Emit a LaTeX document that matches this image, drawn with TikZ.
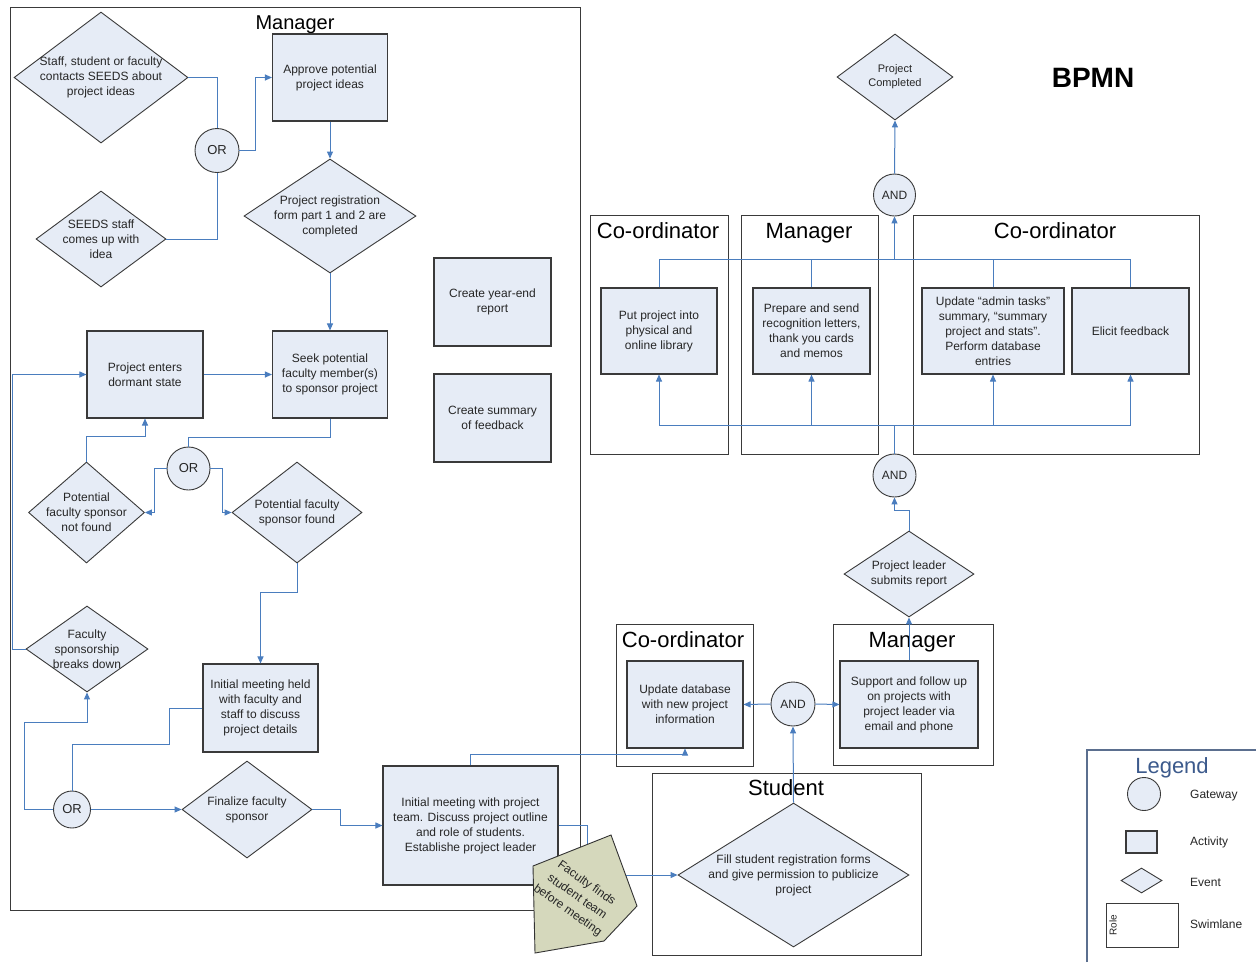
\documentclass[tikz,border=0pt]{standalone}
\usepackage{fontspec}
\setmainfont{Liberation Sans}
\usetikzlibrary{shapes.geometric,arrows.meta}
\definecolor{shapefill}{HTML}{E6ECF6}
\definecolor{flowblue}{HTML}{4A7DBE}
\definecolor{edgegray}{HTML}{3A3A3A}
\definecolor{arrowfill}{HTML}{D5D8BC}
\definecolor{legendblue}{HTML}{3C5A8C}
\definecolor{legendframe}{HTML}{5B6F8F}
\begin{document}
\begin{tikzpicture}[x=1pt,y=-1pt,
  every node/.style={font=\fontsize{12}{15}\selectfont, text=black!85},
  lane/.style={draw=edgegray, line width=1.1pt, rectangle, inner sep=0, anchor=north west},
  lanetitle/.style={font=\fontsize{22}{24}\selectfont, anchor=base, inner sep=0, text=black},
  act/.style={rectangle, draw=edgegray, line width=1.1pt, fill=shapefill, align=center, inner sep=1pt},
  evt/.style={diamond, draw=edgegray, line width=0.9pt, fill=shapefill, inner sep=0},
  gate/.style={circle, draw=edgegray, line width=0.9pt, fill=shapefill, inner sep=0, font=\fontsize{13}{15}\selectfont},
  lbl/.style={align=center, inner sep=0},
  flow/.style={draw=flowblue, line width=1pt, -{Triangle[length=7pt,width=6pt]}},
  link/.style={draw=flowblue, line width=1pt},
  legtext/.style={anchor=base west, inner sep=0, font=\fontsize{12}{14}\selectfont},
]
\useasboundingbox (0,0) rectangle (1256,962);
\fill[white] (0,0) rectangle (1256,962);

% ---------- swimlanes ----------
\node[lane, minimum width=570, minimum height=903] (lmgr) at (10,7) {};
\node[lanetitle, font=\fontsize{20}{22}\selectfont] (tmgr) at (295,29) {Manager};
\node[lane, minimum width=138, minimum height=239] (lco1) at (590,215) {};
\node[lanetitle] (tco1) at (658,238) {Co-ordinator};
\node[lane, minimum width=137, minimum height=239] (lmgr2) at (741,215) {};
\node[lanetitle] (tmgr2) at (809,238) {Manager};
\node[lane, minimum width=286, minimum height=239] (lco2) at (913,215) {};
\node[lanetitle] (tco2) at (1055,238) {Co-ordinator};
\node[lane, minimum width=137, minimum height=142] (lco3) at (616,624) {};
\node[lanetitle] (tco3) at (683,647) {Co-ordinator};
\node[lane, minimum width=160, minimum height=141] (lmgr3) at (833,624) {};
\node[lanetitle] (tmgr3) at (912,647) {Manager};
\node[lane, minimum width=269, minimum height=182] (lstu) at (652,773) {};
\node[lanetitle] (tstu) at (786,795) {Student};

\node[anchor=base, inner sep=0, font=\bfseries\fontsize{28}{30}\selectfont, text=black] (bpmn) at (1093,87) {BPMN};

% ---------- left lane: events, gateways, activities ----------
\node[evt, minimum width=174, minimum height=131,
  label={[lbl]center:{Staff, student or faculty\\contacts SEEDS about\\project ideas}}] (d1) at (101,77.5) {};
\node[evt, minimum width=130, minimum height=96,
  label={[lbl]center:{SEEDS staff\\comes up with\\idea}}] (d2) at (101,239) {};
\node[gate, minimum size=44] (or1) at (217,150.5) {OR};
\node[act, minimum width=115, minimum height=87] (a1) at (330,77.5) {Approve potential\\project ideas};
\node[evt, minimum width=172, minimum height=114,
  label={[lbl]center:{Project registration\\form part 1 and 2 are\\completed}}] (d3) at (330,216) {};
\node[act, minimum width=116, minimum height=87] (a2) at (145,374.5) {Project enters\\dormant state};
\node[act, minimum width=115, minimum height=87] (a3) at (330,374.5) {Seek potential\\faculty member(s)\\to sponsor project};
\node[gate, minimum size=43] (or2) at (188.5,468.5) {OR};
\node[evt, minimum width=116, minimum height=101,
  label={[lbl]center:{Potential\\faculty sponsor\\not found}}] (d4) at (86.5,512.5) {};
\node[evt, minimum width=130, minimum height=101,
  label={[lbl]center:{Potential faculty\\sponsor found}}] (d5) at (297,512.5) {};
\node[evt, minimum width=122, minimum height=86,
  label={[lbl]center:{Faculty\\sponsorship\\breaks down}}] (d6) at (87,649) {};
\node[act, minimum width=115, minimum height=88] (a4) at (260.5,708) {Initial meeting held\\with faculty and\\staff to discuss\\project details};
\node[gate, minimum size=37] (or3) at (72,809.5) {OR};
\node[evt, minimum width=130, minimum height=97,
  label={[lbl]center:{Finalize faculty\\sponsor}}] (d7) at (247,809.5) {};
\node[act, minimum width=175, minimum height=119] (a5) at (470.5,825.5) {Initial meeting with project\\team. Discuss project outline\\and role of students.\\Establishe project leader};
\node[act, minimum width=117, minimum height=88] (yer) at (492.5,302) {Create year-end\\report};
\node[act, minimum width=117, minimum height=88] (sof) at (492.5,418) {Create summary\\of feedback};

% ---------- right side ----------
\node[act, minimum width=116, minimum height=87] (upd) at (685,704.5) {Update database\\with new project\\information};
\node[gate, minimum size=44, font=\fontsize{12}{14}\selectfont] (and3) at (793,704) {AND};
\node[act, minimum width=138, minimum height=87] (sup) at (909,704.5) {Support and follow up\\on projects with\\project leader via\\email and phone};
\node[evt, minimum width=231, minimum height=144,
  label={[lbl]center:{Fill student registration forms\\and give permission to publicize\\project}}] (sd) at (793.5,875) {};
\node[evt, minimum width=130, minimum height=86,
  label={[lbl]center:{Project leader\\submits report}}] (plr) at (909,574) {};
\node[gate, minimum size=43, font=\fontsize{12}{14}\selectfont] (and2) at (894.5,475.5) {AND};
\node[act, minimum width=116, minimum height=86] (b1) at (659,331) {Put project into\\physical and\\online library};
\node[act, minimum width=117, minimum height=86] (b2) at (811.5,331) {Prepare and send\\recognition letters,\\thank you cards\\and memos};
\node[act, minimum width=142, minimum height=86] (b3) at (993,331) {Update “admin tasks”\\summary, “summary\\project and stats”.\\Perform database\\entries};
\node[act, minimum width=117, minimum height=86] (b4) at (1130.5,331) {Elicit feedback};
\node[gate, minimum size=42, font=\fontsize{12}{14}\selectfont] (and1) at (894.5,195) {AND};
\node[evt, minimum width=116, minimum height=86,
  label={[lbl, font=\fontsize{11}{14}\selectfont]center:{Project\\Completed}}] (pc) at (895,77) {};

% ---------- connectors: left lane ----------
\draw[link] (d1.east) -| (or1.north);
\draw[link] (d2.east) -| (or1.south);
\draw[flow] (or1.east) -- ++(16,0) |- (a1.west);
\draw[flow] (a1.south) -- (d3.north);
\draw[flow] (d3.south) -- (a3.north);
\draw[flow] (a2.east) -- (a3.west);
\draw[link] (a3.south) -- ++(0,19) -| (or2.north);
\draw[flow] (or2.west) -- ++(-12,0) |- (d4.east);
\draw[flow] (or2.east) -- ++(12,0) |- (d5.west);
\draw[flow] (d4.north) -- ++(0,-25) -| (a2.south);
\draw[flow] (d5.south) -- ++(0,29) -| (a4.north);
\draw[flow] (d6.west) -- ++(-13,0) |- (a2.west);
\draw[link] (a4.west) -- ++(-33,0) -- ++(0,36) -| (or3.north);
\draw[flow] (or3.west) -- ++(-28.5,0) -- ++(0,-87.5) -| (d6.south);
\draw[flow] (or3.east) -- (d7.west);
\draw[flow] (d7.east) -- ++(28,0) |- (a5.west);
\draw[flow] (a5.north) -- ++(0,-11) -| (upd.south);
\draw[flow] (a5.east) -- ++(29,0) |- (sd.west);

% ---------- connectors: right side ----------
\draw[flow] (sd.north) -- (and3.south);
\draw[flow] (and3.west) -- (upd.east);
\draw[flow] (and3.east) -- (sup.west);
\draw[flow] (sup.north) -- (plr.south);
\draw[flow] (plr.north) -- ++(0,-20) -| (and2.south);
\coordinate (busy) at (0,425);
\coordinate (bb) at (and2.north |- busy);
\draw[link] (and2.north) -- (bb);
\draw[flow] (bb) -| (b1.south);
\draw[flow] (bb) -| (b2.south);
\draw[flow] (bb) -| (b3.south);
\draw[flow] (bb) -| (b4.south);
\coordinate (tbus) at (0,259);
\coordinate (bt) at (and1.south |- tbus);
\draw[link] (b1.north) |- (bt);
\draw[link] (b2.north) |- (bt);
\draw[link] (b3.north) |- (bt);
\draw[link] (b4.north) |- (bt);
\draw[flow] (bt) -- (and1.south);
\draw[flow] (and1.north) -- (pc.south);

% ---------- annotation arrow ----------
\draw[draw=black!80, line width=0.9pt, fill=arrowfill]
  (611,835) -- (637,906) -- (604,941) -- (535,953) -- (533,866) -- cycle;
\node[lbl, rotate=-35, font=\fontsize{12}{16.5}\selectfont] (note) at (577,897) {Faculty finds\\student team\\before meeting};

% ---------- legend ----------
\draw[legendframe, line width=1.2pt] (1087,962) -- (1087,750) -- (1256,750);
\node[anchor=base, inner sep=0, font=\fontsize{22}{24}\selectfont, text=legendblue] (legt) at (1172,773) {Legend};
\node[gate, minimum size=33] (lg1) at (1144,794) {};
\node[act, minimum width=31, minimum height=22] (lg2) at (1141.5,842) {};
\node[evt, minimum width=41, minimum height=25] (lg3) at (1141.5,880.5) {};
\node[rectangle, draw=edgegray, line width=1pt, minimum width=72, minimum height=44] (lg4) at (1142,925) {};
\node[rotate=90, inner sep=0, font=\fontsize{10}{12}\selectfont] (lg4t) at (1113,925) {Role};
\node[legtext] (lgl1) at (1190,798) {Gateway};
\node[legtext] (lgl2) at (1190,845) {Activity};
\node[legtext] (lgl3) at (1190,886) {Event};
\node[legtext] (lgl4) at (1190,928) {Swimlane};
\end{tikzpicture}
\end{document}
